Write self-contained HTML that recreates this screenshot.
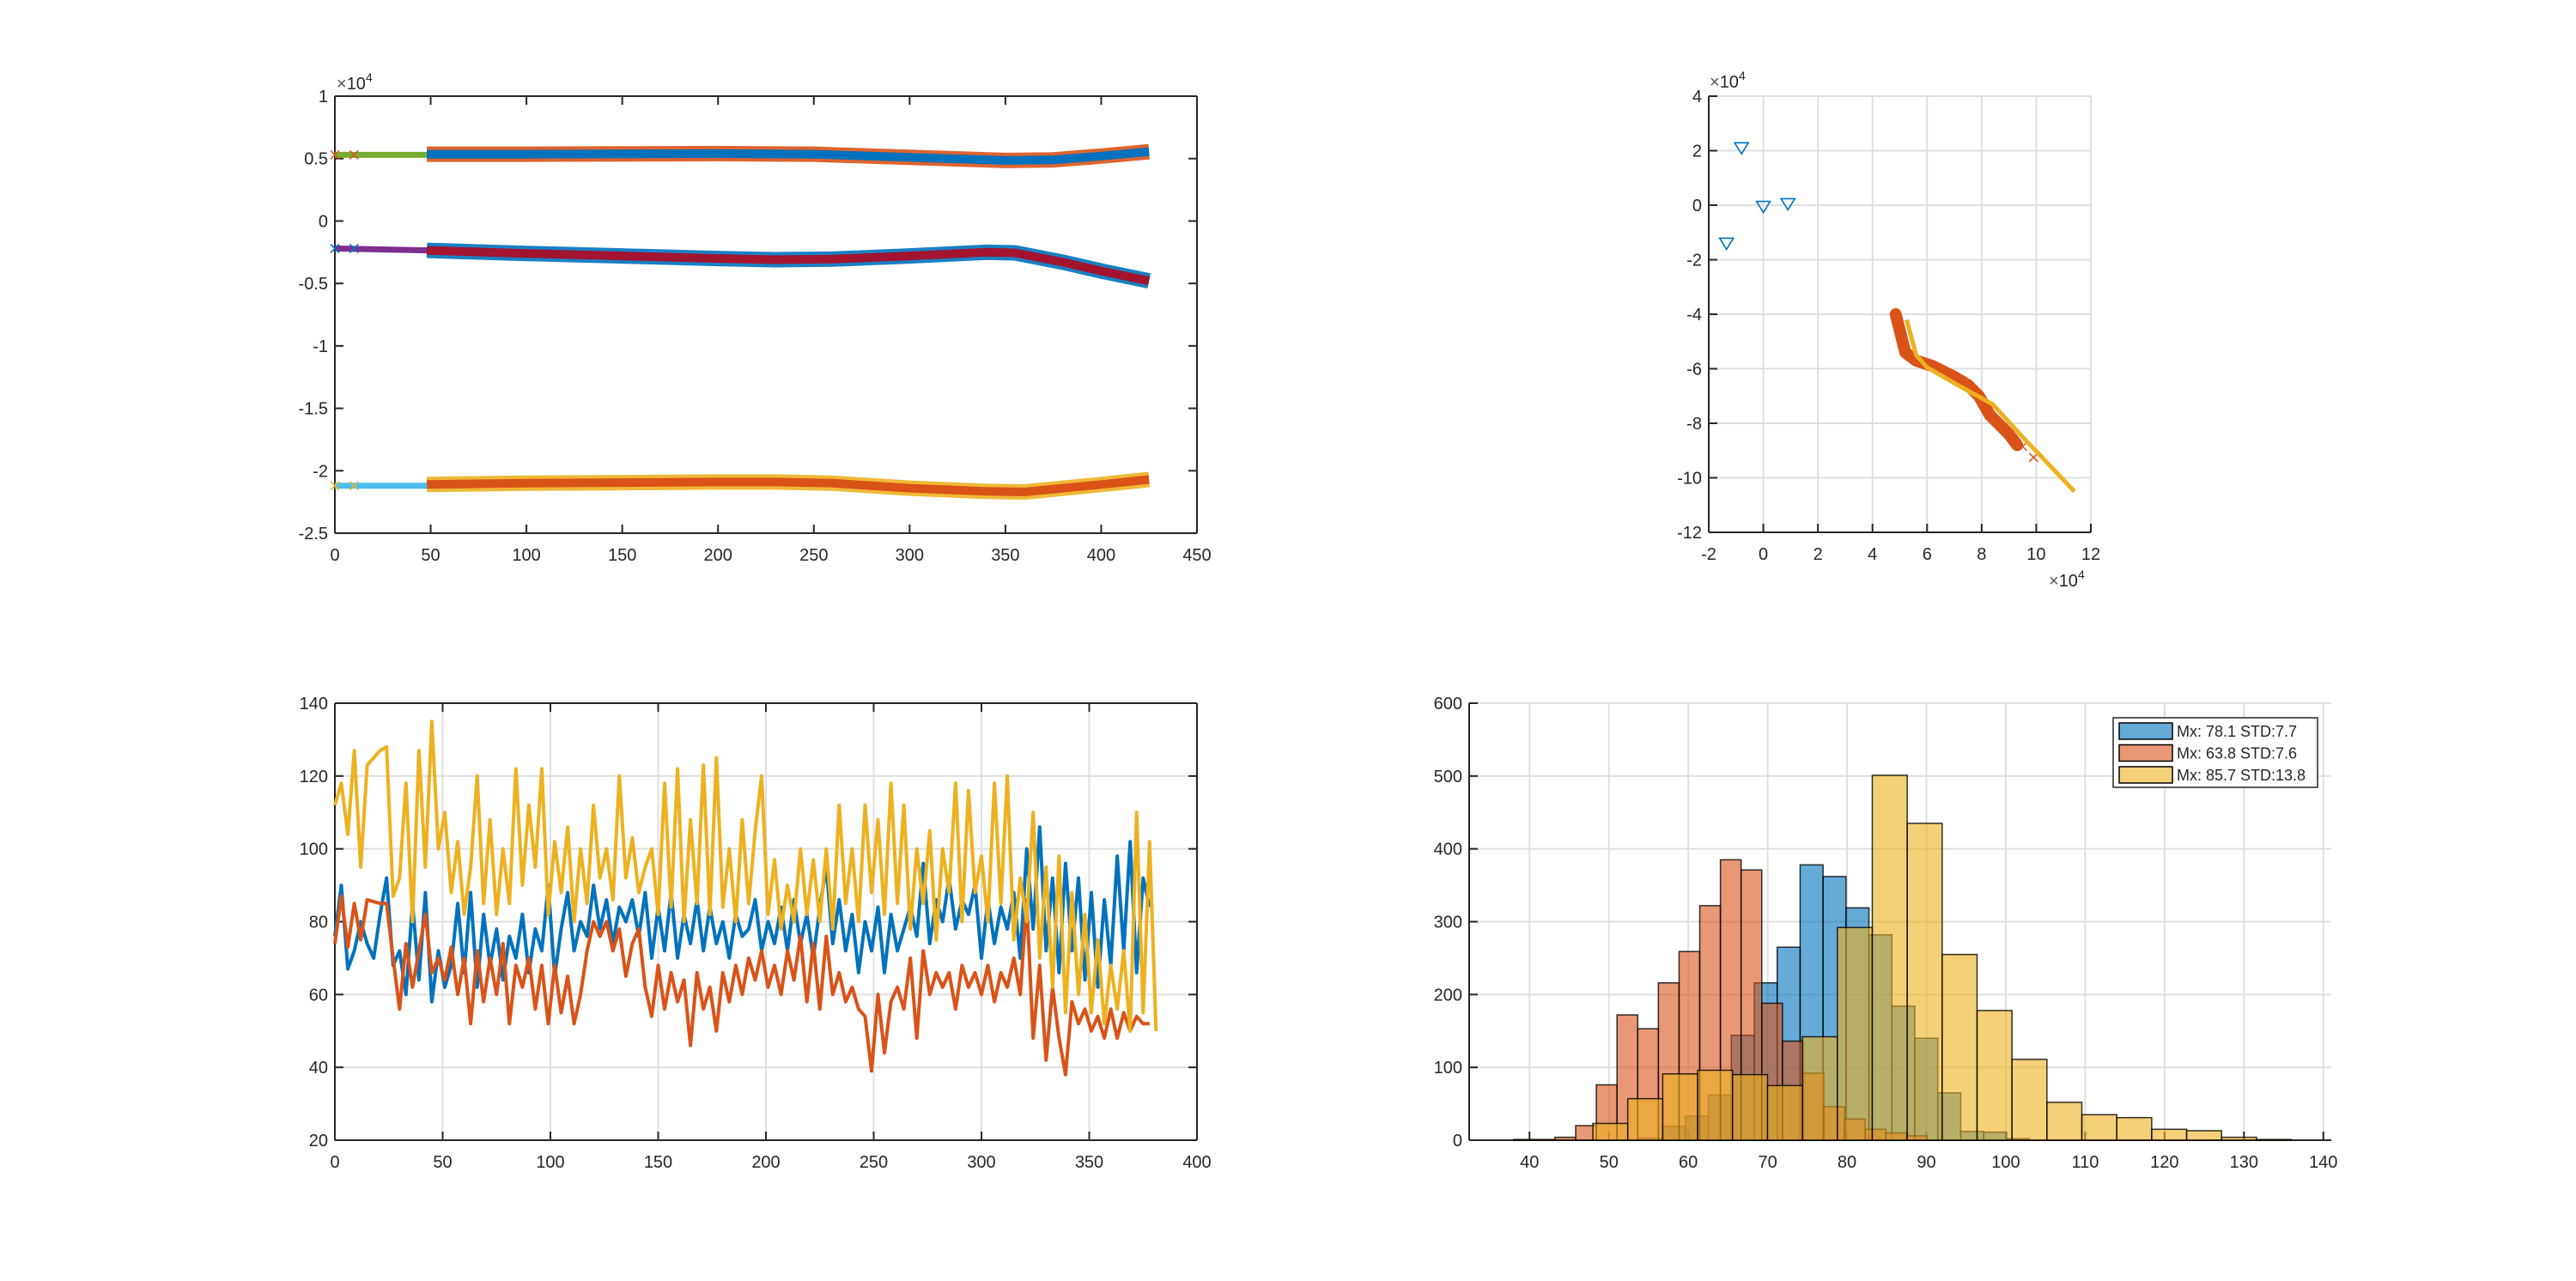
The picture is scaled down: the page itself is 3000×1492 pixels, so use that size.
<!DOCTYPE html>
<html><head><meta charset="utf-8"><style>
html,body{margin:0;padding:0;background:#fff;}
svg{display:block;}
text{font-family:"Liberation Sans",Arial,sans-serif;fill:#262626;}
</style></head>
<body>
<svg id="fig" width="3000" height="1492" viewBox="0 0 3000 1492" xmlns="http://www.w3.org/2000/svg">
<rect width="3000" height="1492" fill="#fff"/>
<g id="tl"></g>
<g id="tr"></g>
<g id="bl"></g>
<g id="br"></g>
</svg>
<script>
// ---------- data: top-left ----------
const tlTicksY = [-2.5,-2,-1.5,-1,-0.5,0,0.5,1];
const tlTicksX = [0,50,100,150,200,250,300,350,400,450];
const tlLead1X = [0,48], tlLead1Y = [0.53,0.53];
const tlMain1X = [48,100,150,200,250,300,350,375,400,425];
const tlMain1Y = [0.535,0.535,0.538,0.54,0.535,0.51,0.485,0.49,0.52,0.555];
const tlLead2X = [0,48], tlLead2Y = [-0.22,-0.235];
const tlMain2X = [48,100,150,200,230,260,300,340,355,380,400,425];
const tlMain2Y = [-0.235,-0.26,-0.28,-0.30,-0.31,-0.305,-0.28,-0.25,-0.255,-0.33,-0.40,-0.48];
const tlLead3X = [0,48], tlLead3Y = [-2.12,-2.12];
const tlMain3X = [48,100,150,200,230,260,300,340,360,400,425];
const tlMain3Y = [-2.11,-2.10,-2.095,-2.09,-2.09,-2.10,-2.14,-2.165,-2.17,-2.11,-2.07];
// ---------- data: top-right ----------
const trTicksX = [-2,0,2,4,6,8,10,12];
const trTicksY = [-12,-10,-8,-6,-4,-2,0,2,4];
const trTriX = [-0.8,0,0.9,-1.35];
const trTriY = [2.1,-0.05,0.05,-1.4];
const trBandX = [4.85,5.0,5.2,5.6,6.2,7.0,7.5,7.9,8.3,8.7,9.0,9.3];
const trBandY = [-4.0,-4.6,-5.4,-5.7,-5.9,-6.3,-6.6,-7.0,-7.7,-8.1,-8.4,-8.8];
const trOutX = [9.5,9.9];
const trOutY = [-8.85,-9.25];
const trFitX = [5.25,5.6,6.0,7.3,8.4,9.5,11.4];
const trFitY = [-4.2,-5.5,-5.95,-6.7,-7.3,-8.5,-10.5];
// ---------- data: bottom-left ----------
const blTicksX = [0,50,100,150,200,250,300,350,400];
const blTicksY = [20,40,60,80,100,120,140];
const blStep = 3;
const blYellow = [112,118,104,127,95,123,125,127,128,87,92,118,80,127,95,135,100,110,88,102,82,95,120,85,108,82,100,85,122,90,112,95,122,82,102,88,106,80,100,85,112,92,100,86,120,92,103,88,95,100,82,118,84,122,80,108,85,123,82,125,84,100,80,108,85,105,120,82,97,78,90,80,100,82,97,80,100,78,112,85,100,80,112,88,108,82,118,85,112,78,100,85,105,75,100,88,118,80,116,88,98,80,118,85,120,75,92,80,110,70,95,62,98,55,88,60,82,55,75,52,68,56,72,50,110,55,102,50];
const blBlue = [76,90,67,72,80,74,70,82,92,68,72,60,85,64,88,58,72,62,68,85,66,88,62,82,68,78,64,76,70,82,66,78,72,90,65,78,88,72,80,76,90,78,86,74,84,80,86,76,88,70,84,72,88,70,82,74,86,72,84,74,80,70,82,76,78,86,72,80,74,84,72,86,74,82,70,84,95,74,86,72,82,66,80,72,84,66,82,72,78,84,76,96,74,86,80,92,78,86,82,90,70,86,74,84,78,88,70,100,78,106,72,92,66,96,72,92,64,88,62,86,68,98,72,102,66,92,84];
const blOrange = [74,87,73,85,75,86,85.5,85,85,70,56,74,62,72,82,66,70,64,73,60,70,52,72,58,70,60,74,52,68,62,70,56,68,52,68,55,65,52,60,72,80,76,80,72,78,65,74,78,62,54,68,56,66,58,64,46,66,56,62,50,66,58,68,60,70,64,72,62,68,60,72,64,76,58,74,56,76,60,66,58,62,56,54,39,60,44,58,62,56,70,48,72,60,66,62,66,56,68,62,66,60,68,58,66,62,70,60,86,48,68,42,62,48,38,58,52,56,50,54,48,56,48,55,50,54,52,52];
// ---------- data: bottom-right histogram ----------
const hTicksX = [40,50,60,70,80,90,100,110,120,130,140];
const hTicksY = [0,100,200,300,400,500,600];
const hBlueStart = 53.86, hBlueWidth = 2.89;
const hBlueCounts = [3,19,33,62,144,216,265,378,362,319,282,184,140,65,12,11,2];
const hOrangeStart = 38.0, hOrangeWidth = 2.605;
const hOrangeCounts = [1,1,4,20,76,172,153,216,259,322,385,371,188,136,92,46,29,15,10,6];
const hYellowStart = 47.98, hYellowWidth = 4.4;
const hYellowCounts = [23,57,91,96,90,75,142,292,501,435,255,178,111,52,35,31,15,13,4,1];
const legendLabels = ["Mx: 78.1 STD:7.7","Mx: 63.8 STD:7.6","Mx: 85.7 STD:13.8"];

const NS = "http://www.w3.org/2000/svg";
function el(parent, tag, attrs, txt){
  const e = document.createElementNS(NS, tag);
  for (const k in attrs) e.setAttribute(k, attrs[k]);
  if (txt !== undefined) e.textContent = txt;
  parent.appendChild(e);
  return e;
}
function scale(d0,d1,p0,p1){ return v => p0 + (v-d0)/(d1-d0)*(p1-p0); }
function pts(xs, ys, sx, sy){ return xs.map((x,i)=>sx(x).toFixed(1)+","+sy(ys[i]).toFixed(1)).join(" "); }

function drawAxes(g, o){
  const {L,R,T,B,sx,sy,tx,ty,grid,box,fx,fy} = o;
  if (grid){
    tx.forEach(v=>{ const l = el(g,"line",{x1:sx(v),x2:sx(v),y1:T,y2:B,stroke:"#dfdfdf","stroke-width":2});
        });
    ty.forEach(v=>{ const l = el(g,"line",{x1:L,x2:R,y1:sy(v),y2:sy(v),stroke:"#dfdfdf","stroke-width":2});
        });
  }
  const ax = el(g,"g",{});
  
  
  el(ax,"line",{x1:L,x2:R,y1:B,y2:B,stroke:"#262626","stroke-width":2});
  el(ax,"line",{x1:L,x2:L,y1:T,y2:B,stroke:"#262626","stroke-width":2});
  if (box){
    el(ax,"line",{x1:L,x2:R,y1:T,y2:T,stroke:"#262626","stroke-width":2});
    el(ax,"line",{x1:R,x2:R,y1:T,y2:B,stroke:"#262626","stroke-width":2});
  }
  tx.forEach(v=>{
    const x = sx(v);
    el(ax,"line",{x1:x,x2:x,y1:B,y2:B-10,stroke:"#262626","stroke-width":2});
    if (box) el(ax,"line",{x1:x,x2:x,y1:T,y2:T+10,stroke:"#262626","stroke-width":2});
    const t = el(g,"text",{x:x,y:B+32,"font-size":20,"text-anchor":"middle"}, fx(v));
    
    
  });
  ty.forEach(v=>{
    const y = sy(v);
    el(ax,"line",{x1:L,x2:L+10,y1:y,y2:y,stroke:"#262626","stroke-width":2});
    if (box) el(ax,"line",{x1:R,x2:R-10,y1:y,y2:y,stroke:"#262626","stroke-width":2});
    const t = el(g,"text",{x:L-8,y:y+7,"font-size":20,"text-anchor":"end"}, fy(v));
    
    
  });
}
function expLabel(g, x, y, name){
  const t = el(g,"text",{x:x,y:y,"font-size":20});
  
  
  el(t,"tspan",{"fill":"#555"},"\u00d7");
  el(t,"tspan",{},"10");
  el(t,"tspan",{"font-size":14,"dy":-9},"4");
}
function xMarks(g, xs, ys, sx, sy, color, name){
  xs.forEach((x,i)=>{
    const cx = sx(x), cy = sy(ys[i]);
    const m = el(g,"path",{d:`M${cx-5},${cy-5}L${cx+5},${cy+5}M${cx-5},${cy+5}L${cx+5},${cy-5}`,stroke:color,"stroke-width":1.5,fill:"none"});
    
    
  });
}

// ---------- top-left ----------
(function(){
  const g = document.getElementById("tl");
  const L=390,R=1394,T=112,B=621;
  const sx = scale(0,450,L,R), sy = scale(-2.5,1,B,T);
  drawAxes(g,{L,R,T,B,sx,sy,tx:tlTicksX,ty:tlTicksY,grid:false,box:true,fx:v=>String(v),fy:v=>String(v)});
  expLabel(g, 392, 104, "y-exponent-label");
  const series = [
    {lx:tlLead1X,ly:tlLead1Y,lc:"#77AC30",mx:tlMain1X,my:tlMain1Y,band:"#D95319",line:"#0072BD",n:"upper"},
    {lx:tlLead2X,ly:tlLead2Y,lc:"#7E2F8E",mx:tlMain2X,my:tlMain2Y,band:"#0072BD",line:"#A2142F",n:"middle"},
    {lx:tlLead3X,ly:tlLead3Y,lc:"#4DBEEE",mx:tlMain3X,my:tlMain3Y,band:"#EDB120",line:"#D95319",n:"lower"}
  ];
  series.forEach(s=>{
    const b = el(g,"polyline",{points:pts(s.mx,s.my,sx,sy),fill:"none",stroke:s.band,"stroke-width":18,"stroke-linejoin":"round","stroke-opacity":0.9});
    
    
    const l0 = el(g,"polyline",{points:pts(s.lx,s.ly,sx,sy),fill:"none",stroke:s.lc,"stroke-width":7});
    
    
    const l = el(g,"polyline",{points:pts(s.mx,s.my,sx,sy),fill:"none",stroke:s.line,"stroke-width":10,"stroke-linejoin":"round"});
    
    
    xMarks(g,[0,10],[s.ly[0],s.ly[0]],sx,sy,s.band,s.n+'-start-marker');
  });
})();

// ---------- top-right ----------
(function(){
  const g = document.getElementById("tr");
  const L=1990,R=2435,T=112,B=620;
  const sx = scale(-2,12,L,R), sy = scale(-12,4,B,T);
  drawAxes(g,{L,R,T,B,sx,sy,tx:trTicksX,ty:trTicksY,grid:true,box:false,fx:v=>String(v),fy:v=>String(v)});
  expLabel(g, 1991, 102, "y-exponent-label");
  expLabel(g, 2386, 683, "x-exponent-label");
  trTriX.forEach((x,i)=>{
    const cx=sx(x), cy=sy(trTriY[i]);
    const t = el(g,"path",{d:`M${cx-8},${cy-6}L${cx+8},${cy-6}L${cx},${cy+7}Z`,fill:"none",stroke:"#0072BD","stroke-width":1.6});
    
    
  });
  const band = el(g,"polyline",{points:pts(trBandX,trBandY,sx,sy),fill:"none",stroke:"#D95319","stroke-width":14,"stroke-linejoin":"round","stroke-linecap":"round"});
  
  
  xMarks(g,trOutX,trOutY,sx,sy,"#D95319","outlier-marker");
  const fit = el(g,"polyline",{points:pts(trFitX,trFitY,sx,sy),fill:"none",stroke:"#EDB120","stroke-width":5,"stroke-linejoin":"round"});
  
  
})();

// ---------- bottom-left ----------
(function(){
  const g = document.getElementById("bl");
  const L=390,R=1394,T=819,B=1328;
  const sx = scale(0,400,L,R), sy = scale(20,140,B,T);
  drawAxes(g,{L,R,T,B,sx,sy,tx:blTicksX,ty:blTicksY,grid:true,box:true,fx:v=>String(v),fy:v=>String(v)});
  const defs = [[blBlue,"#0072BD","blue-series"],[blOrange,"#D95319","orange-series"],[blYellow,"#EDB120","yellow-series"]];
  defs.forEach(d=>{
    const xs = d[0].map((_,i)=>i*blStep);
    const l = el(g,"polyline",{points:pts(xs,d[0],sx,sy),fill:"none",stroke:d[1],"stroke-width":4,"stroke-linejoin":"round"});
    
    
  });
})();

// ---------- bottom-right ----------
(function(){
  const g = document.getElementById("br");
  const L=1711,R=2715,T=819,B=1328;
  const sx = scale(32.4,141,L,R), sy = scale(0,600,B,T);
  drawAxes(g,{L,R,T,B,sx,sy,tx:hTicksX,ty:hTicksY,grid:true,box:false,fx:v=>String(v),fy:v=>String(v)});
  const hs = [[hBlueStart,hBlueWidth,hBlueCounts,"#0072BD","blue-bin"],[hOrangeStart,hOrangeWidth,hOrangeCounts,"#D95319","orange-bin"],[hYellowStart,hYellowWidth,hYellowCounts,"#EDB120","yellow-bin"]];
  hs.forEach(h=>{
    h[2].forEach((c,i)=>{
      const x0 = sx(h[0]+i*h[1]), x1 = sx(h[0]+(i+1)*h[1]);
      const r = el(g,"rect",{x:x0,y:sy(c),width:x1-x0,height:B-sy(c),fill:h[3],"fill-opacity":0.6,stroke:"#000","stroke-width":1.5,"stroke-opacity":0.8});
      
      
    });
  });
  const lg = el(g,"g",{});
  
  
  el(lg,"rect",{x:2461,y:836,width:238,height:81,fill:"#fff",stroke:"#262626","stroke-width":1.5});
  const cols = ["#0072BD","#D95319","#EDB120"];
  legendLabels.forEach((s,i)=>{
    const cy = 851 + i*25.5;
    const p = el(lg,"rect",{x:2468,y:cy-9,width:62,height:19,fill:cols[i],"fill-opacity":0.6,stroke:"#000","stroke-width":1.5});
    
    
    const t = el(lg,"text",{x:2535,y:cy+7,"font-size":18,fill:"#000"}, s);
    
    
  });
})();
</script>
</body></html>
